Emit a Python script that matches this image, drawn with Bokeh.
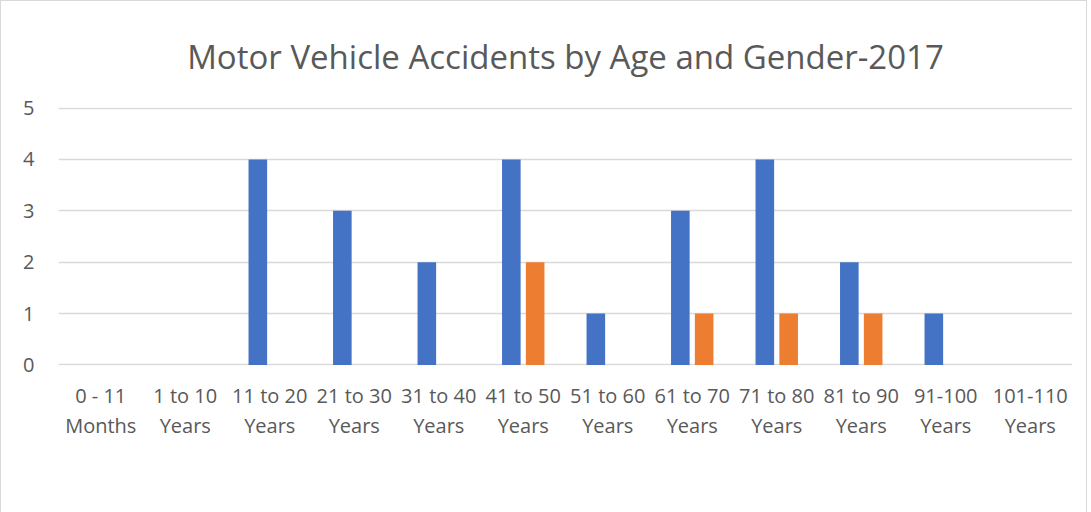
from bokeh.plotting import figure
from bokeh.models import (ColumnDataSource, FactorRange, Range1d, FixedTicker,
                          CategoricalAxis, Legend, LegendItem, CustomJSTickFormatter)
from bokeh.transform import dodge
from bokeh.embed import file_html
from bokeh.resources import INLINE

categories = ["0 - 11 Months", "1 to 10 Years", "11 to 20 Years", "21 to 30 Years",
              "31 to 40 Years", "41 to 50 Years", "51 to 60 Years", "61 to 70 Years",
              "71 to 80 Years", "81 to 90 Years", "91-100 Years", "101-110 Years"]
line1 = ["0 - 11", "1 to 10", "11 to 20", "21 to 30", "31 to 40", "41 to 50",
         "51 to 60", "61 to 70", "71 to 80", "81 to 90", "91-100", "101-110"]
line2 = ["Months", "Years", "Years", "Years", "Years", "Years",
         "Years", "Years", "Years", "Years", "Years", "Years"]
male = [0, 0, 4, 3, 2, 4, 1, 3, 4, 2, 1, 0]
female = [0, 0, 0, 0, 0, 2, 0, 1, 1, 1, 0, 0]
y_ticks = [0, 1, 2, 3, 4, 5]

TXT = "#595959"
FONT = "Open Sans"

src = ColumnDataSource(dict(cat=categories, male=male, female=female))

p = figure(width=1085, height=508, frame_width=1014, frame_height=258,
           x_range=FactorRange(*categories),
           y_range=Range1d(-0.01, 5.01), output_backend="svg", toolbar_location=None,
           min_border_left=57, min_border_right=14, min_border_top=106, min_border_bottom=0,
           title="Motor Vehicle Accidents by Age and Gender-2017")
p.styles = {"border": "1px solid #d9d9d9"}
p.outline_line_color = None
p.title.align = "center"
p.title.offset = -22
p.title.text_font = FONT
p.title.text_font_size = "33px"
p.title.text_font_style = "normal"
p.title.text_color = TXT
p.title.standoff = 58

p.xgrid.grid_line_color = None
p.ygrid.grid_line_color = "#d9d9d9"
p.ygrid.grid_line_width = 1.3
p.yaxis.ticker = FixedTicker(ticks=y_ticks)
p.yaxis.axis_line_color = None
p.yaxis.major_tick_line_color = None
p.yaxis.minor_tick_line_color = None
p.yaxis.major_label_text_font = FONT
p.yaxis.major_label_text_font_size = "20px"
p.yaxis.major_label_text_color = TXT
p.yaxis.major_label_standoff = 18

ax1 = p.xaxis[0]
ax1.axis_line_color = None
ax1.major_tick_line_color = None
ax1.major_tick_out = 0
ax1.major_tick_in = 0
ax1.formatter = CustomJSTickFormatter(args=dict(m=dict(zip(categories, line1))),
                                      code="return m[tick];")
ax1.major_label_text_font = FONT
ax1.major_label_text_font_size = "20px"
ax1.major_label_text_color = TXT
ax1.major_label_standoff = 16

ax2 = CategoricalAxis(axis_line_color=None, major_tick_line_color=None,
                      major_tick_out=0, major_tick_in=0,
                      formatter=CustomJSTickFormatter(args=dict(m=dict(zip(categories, line2))),
                                                      code="return m[tick];"),
                      major_label_text_font=FONT, major_label_text_font_size="20px",
                      major_label_text_color=TXT, major_label_standoff=0)
p.add_layout(ax2, "below")

r1 = p.vbar(x=dodge("cat", -0.141, range=p.x_range), top="male", width=0.22,
            source=src, fill_color="#4472C4", line_color=None)
r2 = p.vbar(x=dodge("cat", 0.141, range=p.x_range), top="female", width=0.22,
            source=src, fill_color="#ED7D31", line_color=None)

legend = Legend(items=[LegendItem(label="Male", renderers=[r1]),
                       LegendItem(label="Female", renderers=[r2])],
                orientation="horizontal", location="center",
                glyph_width=14, glyph_height=14, label_standoff=6, spacing=19,
                label_text_font=FONT, label_text_font_size="20px", label_text_color=TXT,
                border_line_color=None, background_fill_alpha=0, padding=0, margin=0)
p.add_layout(legend, "below")

open("out.html", "w").write(file_html(p, INLINE))
